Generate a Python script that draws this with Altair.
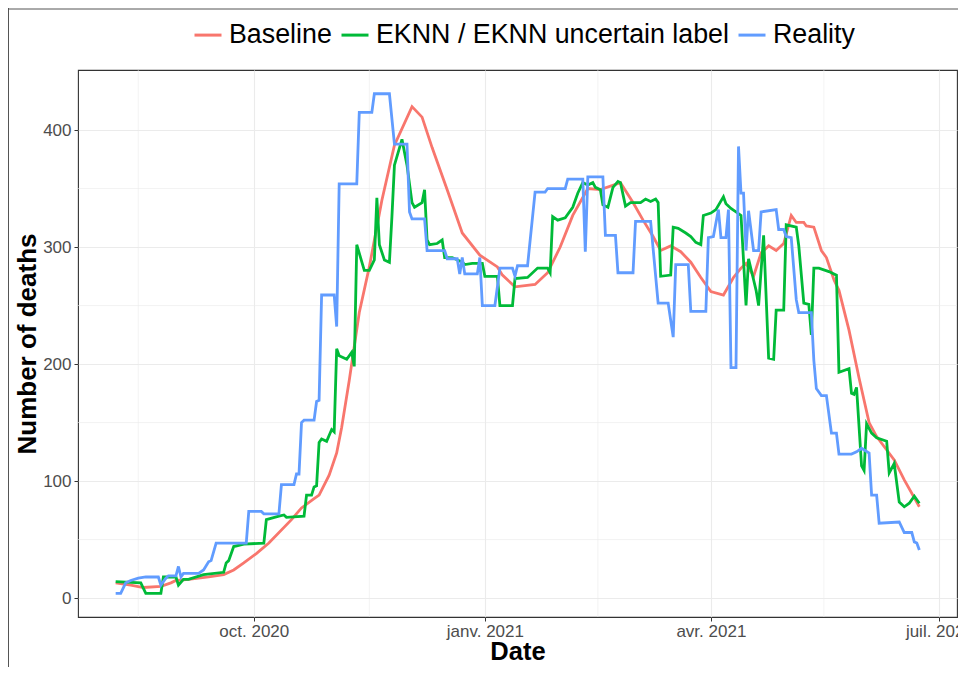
import altair as alt
import pandas as pd

# ---------------- data ----------------
series_names = ["Baseline", "EKNN / EKNN uncertain label", "Reality"]
series_colors = ["#F8766D", "#00BA38", "#619CFF"]

baseline_dates = [
    "2020-08-07", "2020-08-13", "2020-08-18", "2020-08-25", "2020-08-29", "2020-08-31",
    "2020-09-05", "2020-09-13", "2020-09-19", "2020-09-23", "2020-09-27", "2020-10-02",
    "2020-10-07", "2020-10-16", "2020-10-20", "2020-10-25", "2020-10-27", "2020-10-31",
    "2020-11-03", "2020-11-05", "2020-11-08", "2020-11-12", "2020-11-16", "2020-11-21",
    "2020-11-26", "2020-12-03", "2020-12-07", "2020-12-11", "2020-12-17", "2020-12-23",
    "2020-12-30", "2021-01-06", "2021-01-08", "2021-01-13", "2021-01-21", "2021-01-26",
    "2021-01-31", "2021-02-05", "2021-02-11", "2021-02-16", "2021-02-24", "2021-03-01",
    "2021-03-05", "2021-03-09", "2021-03-12", "2021-03-16", "2021-03-20", "2021-03-24",
    "2021-03-28", "2021-04-01", "2021-04-06", "2021-04-10", "2021-04-13", "2021-04-15",
    "2021-04-18", "2021-04-21", "2021-04-24", "2021-04-27", "2021-04-30", "2021-05-03",
    "2021-05-05", "2021-05-08", "2021-05-09", "2021-05-12", "2021-05-15", "2021-05-17",
    "2021-05-20", "2021-05-22", "2021-05-26", "2021-05-30", "2021-06-03", "2021-06-06",
    "2021-06-13", "2021-06-17", "2021-06-23",
]
baseline_values = [
    13, 11, 9, 10, 13, 15,
    16, 18, 20, 24, 30, 38,
    47, 67, 77, 85, 88, 105,
    124, 146, 186, 244, 283, 340,
    387, 420, 411, 385, 349, 312,
    293, 283, 276, 266, 268, 278,
    300, 327, 350, 349, 355, 338,
    323, 309, 297, 301, 296, 287,
    274, 262, 259, 274, 282, 286,
    275, 295, 301, 297, 303, 327,
    321, 321, 318, 317, 297, 291,
    272, 263, 229, 188, 150, 138,
    118, 101, 78,
]

eknn_dates = [
    "2020-08-07", "2020-08-17", "2020-08-19", "2020-08-25", "2020-08-26", "2020-08-31",
    "2020-09-01", "2020-09-03", "2020-09-05", "2020-09-11", "2020-09-19", "2020-09-20",
    "2020-09-21", "2020-09-23", "2020-09-27", "2020-10-05", "2020-10-06", "2020-10-11",
    "2020-10-13", "2020-10-14", "2020-10-21", "2020-10-22", "2020-10-24", "2020-10-25",
    "2020-10-26", "2020-10-27", "2020-10-28", "2020-10-30", "2020-11-01", "2020-11-02",
    "2020-11-03", "2020-11-04", "2020-11-07", "2020-11-09", "2020-11-10", "2020-11-11",
    "2020-11-14", "2020-11-16", "2020-11-18", "2020-11-19", "2020-11-20", "2020-11-22",
    "2020-11-24", "2020-11-25", "2020-11-26", "2020-11-29", "2020-12-01", "2020-12-03",
    "2020-12-04", "2020-12-07", "2020-12-08", "2020-12-09", "2020-12-10", "2020-12-13",
    "2020-12-15", "2020-12-16", "2020-12-19", "2020-12-23", "2020-12-24", "2020-12-27",
    "2020-12-31", "2021-01-01", "2021-01-06", "2021-01-07", "2021-01-12", "2021-01-13",
    "2021-01-18", "2021-01-22", "2021-01-26", "2021-01-27", "2021-01-28", "2021-01-30",
    "2021-02-02", "2021-02-05", "2021-02-07", "2021-02-09", "2021-02-11", "2021-02-13",
    "2021-02-14", "2021-02-16", "2021-02-17", "2021-02-19", "2021-02-21", "2021-02-23",
    "2021-02-24", "2021-02-26", "2021-02-28", "2021-03-02", "2021-03-04", "2021-03-06",
    "2021-03-08", "2021-03-10", "2021-03-11", "2021-03-12", "2021-03-16", "2021-03-17",
    "2021-03-19", "2021-03-22", "2021-03-24", "2021-03-26", "2021-03-28", "2021-03-29",
    "2021-04-01", "2021-04-03", "2021-04-06", "2021-04-07", "2021-04-09", "2021-04-11",
    "2021-04-13", "2021-04-15", "2021-04-16", "2021-04-18", "2021-04-19", "2021-04-20",
    "2021-04-22", "2021-04-24", "2021-04-26", "2021-04-27", "2021-04-30", "2021-05-01",
    "2021-05-05", "2021-05-06", "2021-05-08", "2021-05-10", "2021-05-11", "2021-05-12",
    "2021-05-14", "2021-05-18", "2021-05-21", "2021-05-22", "2021-05-26", "2021-05-27",
    "2021-05-28", "2021-05-29", "2021-05-31", "2021-06-01", "2021-06-02", "2021-06-04",
    "2021-06-06", "2021-06-10", "2021-06-11", "2021-06-13", "2021-06-15", "2021-06-17",
    "2021-06-19", "2021-06-21", "2021-06-23",
]
eknn_values = [
    14, 13, 4, 4, 18, 18,
    11, 16, 16, 20, 22, 30,
    32, 44, 46, 47, 67, 70,
    71, 69, 70, 88, 88, 95,
    96, 133, 136, 134, 144, 142,
    213, 207, 204, 210, 198, 302,
    280, 280, 289, 342, 302, 289,
    287, 326, 370, 392, 370, 338,
    334, 338, 349, 306, 302, 303,
    306, 291, 291, 287, 285, 286,
    286, 275, 275, 250, 250, 273,
    274, 282, 282, 278, 326, 323,
    325, 334, 346, 355, 353, 355,
    351, 349, 336, 334, 351, 356,
    355, 335, 338, 338, 338, 341,
    339, 341, 338, 275, 276, 317,
    316, 312, 309, 304, 302, 327,
    329, 332, 343, 337, 333, 330,
    327, 250, 290, 272, 263, 250,
    310, 205, 204, 246, 246, 319,
    317, 301, 252, 251, 225, 282,
    282, 279, 276, 193, 196, 175,
    174, 180, 113, 109, 149, 141,
    137, 134, 107, 115, 82, 78,
    81, 87, 81,
]

reality_dates = [
    "2020-08-07", "2020-08-09", "2020-08-11", "2020-08-13", "2020-08-16", "2020-08-19",
    "2020-08-24", "2020-08-25", "2020-08-27", "2020-08-28", "2020-08-31", "2020-09-01",
    "2020-09-02", "2020-09-03", "2020-09-09", "2020-09-11", "2020-09-13", "2020-09-14",
    "2020-09-16", "2020-09-28", "2020-09-29", "2020-10-04", "2020-10-05", "2020-10-11",
    "2020-10-12", "2020-10-17", "2020-10-18", "2020-10-19", "2020-10-20", "2020-10-21",
    "2020-10-25", "2020-10-26", "2020-10-27", "2020-10-28", "2020-11-02", "2020-11-03",
    "2020-11-04", "2020-11-11", "2020-11-12", "2020-11-17", "2020-11-18", "2020-11-24",
    "2020-11-26", "2020-12-01", "2020-12-02", "2020-12-03", "2020-12-08", "2020-12-09",
    "2020-12-16", "2020-12-17", "2020-12-21", "2020-12-22", "2020-12-23", "2020-12-24",
    "2020-12-29", "2020-12-30", "2020-12-31", "2021-01-05", "2021-01-07", "2021-01-12",
    "2021-01-13", "2021-01-14", "2021-01-18", "2021-01-21", "2021-01-25", "2021-01-26",
    "2021-02-02", "2021-02-03", "2021-02-09", "2021-02-10", "2021-02-11", "2021-02-17",
    "2021-02-18", "2021-02-22", "2021-02-23", "2021-03-01", "2021-03-02", "2021-03-08",
    "2021-03-11", "2021-03-15", "2021-03-17", "2021-03-18", "2021-03-23", "2021-03-24",
    "2021-03-30", "2021-03-31", "2021-04-02", "2021-04-04", "2021-04-05", "2021-04-07",
    "2021-04-08", "2021-04-09", "2021-04-11", "2021-04-12", "2021-04-13", "2021-04-14",
    "2021-04-15", "2021-04-16", "2021-04-18", "2021-04-20", "2021-04-21", "2021-04-27",
    "2021-04-28", "2021-04-30", "2021-05-01", "2021-05-03", "2021-05-05", "2021-05-06",
    "2021-05-11", "2021-05-12", "2021-05-13", "2021-05-15", "2021-05-17", "2021-05-19",
    "2021-05-21", "2021-05-22", "2021-05-27", "2021-05-29", "2021-05-31", "2021-06-03",
    "2021-06-04", "2021-06-06", "2021-06-07", "2021-06-15", "2021-06-17", "2021-06-20",
    "2021-06-21", "2021-06-22", "2021-06-23",
]
reality_values = [
    4, 4, 13, 15, 17, 18,
    18, 11, 17, 19, 19, 27,
    18, 21, 21, 24, 31, 32,
    47, 47, 74, 74, 72, 72,
    97, 97, 106, 106, 150, 152,
    152, 168, 169, 259, 259, 232,
    354, 354, 415, 415, 431, 431,
    388, 388, 330, 324, 324, 297,
    297, 290, 290, 277, 291, 277,
    277, 291, 250, 250, 282, 282,
    275, 284, 284, 347, 347, 350,
    350, 358, 358, 296, 360, 360,
    310, 310, 278, 278, 322, 322,
    252, 252, 223, 285, 285, 245,
    245, 308, 309, 332, 308, 308,
    332, 197, 197, 386, 346, 346,
    297, 331, 297, 297, 330, 332,
    315, 315, 309, 308, 255, 244,
    244, 203, 179, 173, 173, 141,
    141, 123, 123, 125, 128, 124,
    88, 88, 64, 65, 56, 56,
    48, 47, 41,
]

major_x = ["2020-10-01", "2021-01-01", "2021-04-01", "2021-07-01"]
minor_x = ["2020-08-16", "2020-11-16", "2021-02-15", "2021-05-16"]
major_y = [0, 100, 200, 300, 400]
minor_y = [50, 150, 250, 350]

# ---------------- build table ----------------
frames = []
for name, d, v in [
    (series_names[0], baseline_dates, baseline_values),
    (series_names[1], eknn_dates, eknn_values),
    (series_names[2], reality_dates, reality_values),
]:
    frames.append(pd.DataFrame({"date": d, "value": v, "series": name}))
df = pd.concat(frames, ignore_index=True)


def utc_dt(s):
    y, m, d = (int(p) for p in s.split("-"))
    return alt.DateTime(year=y, month=m, date=d, utc=True)


FONT = "Liberation Sans"
x_scale = alt.Scale(
    type="utc", nice=False,
    domain=[utc_dt("2020-07-23"), utc_dt("2021-07-08")],
)
y_scale = alt.Scale(domain=[-16.2, 451.3], nice=False, zero=False)
color_scale = alt.Scale(domain=series_names, range=series_colors)

fr_months = "['janv.','févr.','mars','avr.','mai','juin','juil.','août','sept.','oct.','nov.','déc.']"

x_axis = alt.Axis(
    values=[utc_dt(s) for s in major_x],
    labelExpr=fr_months + "[utcmonth(datum.value)] + ' ' + utcyear(datum.value)",
    labelFont=FONT, labelFontSize=17, labelColor="#4D4D4D", labelPadding=2,
    labelFlush=False, labelOverlap=False,
    tickSize=4, tickColor="#333333", tickWidth=1,
    domain=False, grid=True, gridColor="#EBEBEB", gridWidth=1.1,
    title="Date", titleFont=FONT, titleFontSize=25.5, titleFontWeight="bold",
    titleColor="black", titlePadding=0,
)
y_axis = alt.Axis(
    values=major_y,
    labelFont=FONT, labelFontSize=17, labelColor="#4D4D4D", labelPadding=3,
    tickSize=4, tickColor="#333333", tickWidth=1,
    domain=False, grid=True, gridColor="#EBEBEB", gridWidth=1.1,
    title="Number of deaths", titleFont=FONT, titleFontSize=26,
    titleFontWeight="bold", titleColor="black", titlePadding=2,
)
legend = alt.Legend(
    orient="none", legendX=115, legendY=-50, direction="horizontal",
    columns=3, title=None, symbolType="stroke", symbolSize=729,
    symbolStrokeWidth=3, labelFont=FONT, labelFontSize=26.8,
    labelColor="black", labelLimit=0, labelOffset=6, columnPadding=3,
)

minor_x_layer = alt.Chart(pd.DataFrame({"date": minor_x})).mark_rule(
    color="#EBEBEB", strokeWidth=0.6
).encode(x=alt.X("date:T", scale=x_scale, axis=x_axis))

minor_y_layer = alt.Chart(pd.DataFrame({"value": minor_y})).mark_rule(
    color="#EBEBEB", strokeWidth=0.6
).encode(y=alt.Y("value:Q", scale=y_scale, axis=y_axis))


def series_layer(name):
    return alt.Chart(df).transform_filter(
        alt.datum.series == name
    ).mark_line(strokeWidth=2.8, strokeCap="butt").encode(
        x=alt.X("date:T", scale=x_scale, axis=x_axis),
        y=alt.Y("value:Q", scale=y_scale, axis=y_axis),
        color=alt.Color("series:N", scale=color_scale, legend=legend),
    )


line_layers = [series_layer(n) for n in series_names]

frame_df = pd.DataFrame({"k": [0]})
frame_left = alt.Chart(frame_df).mark_rule(color="#555555", strokeWidth=1).encode(
    x=alt.value(-69.5), y=alt.value(-62), y2=alt.value(620)
)
frame_top = alt.Chart(frame_df).mark_rule(color="#555555", strokeWidth=1).encode(
    x=alt.value(-70), x2=alt.value(900), y=alt.value(-61)
)

chart = alt.layer(
    minor_x_layer, minor_y_layer, *line_layers, frame_left, frame_top
).properties(
    width=879, height=547,
    background="white",
    autosize=alt.AutoSizeParams(type="none"),
    padding={"left": 70, "top": 62, "right": 1, "bottom": 50},
).configure_view(
    stroke="#333333", strokeWidth=1.1
)

chart.save("out.html", embed_options={"renderer": "svg", "actions": False})
